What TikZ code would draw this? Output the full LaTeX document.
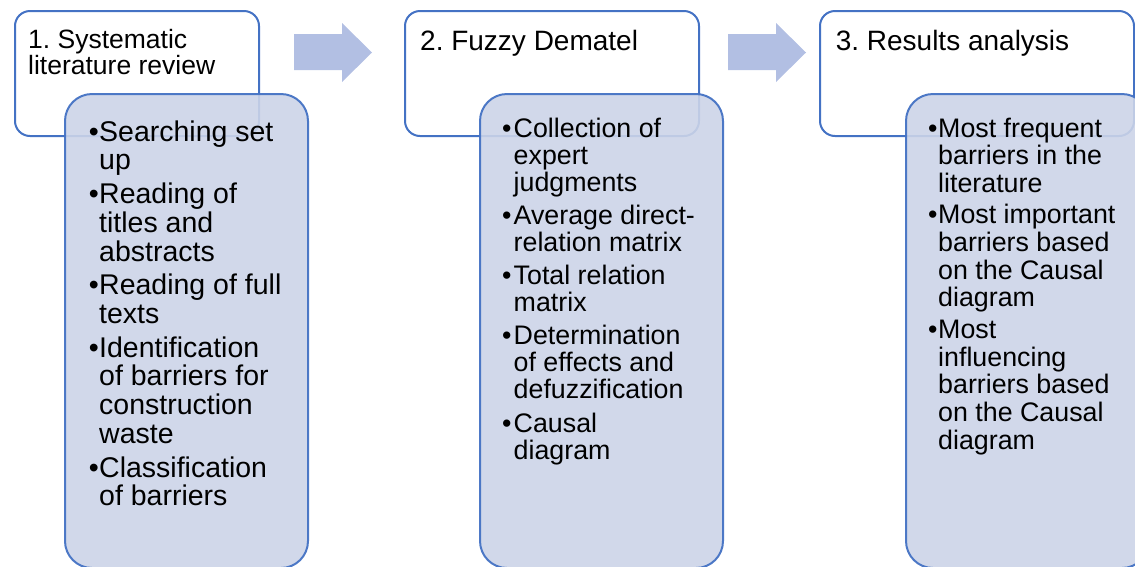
\documentclass[tikz,border=0pt]{standalone}
\usepackage{fontspec}
\setmainfont{Liberation Sans}
\frenchspacing
\definecolor{bdr}{RGB}{68,114,196}
\definecolor{lowfill}{RGB}{204,212,232}
\definecolor{arrfill}{RGB}{178,191,227}
\tikzset{
  topbox/.style={draw=bdr, line width=2pt, fill=white, rounded corners=15pt, inner sep=0pt, anchor=north west},
  lowbox/.style={draw=bdr, line width=2pt, fill=lowfill, fill opacity=0.9, draw opacity=0.95, rounded corners=27pt, inner sep=0pt, anchor=north west},
  blockarrow/.style={fill=arrfill, draw=none},
  ln/.style={inner sep=0pt, anchor=base west, text=black},
  ttl/.style={ln, font=\fontsize{28}{28}\selectfont},
  ttlone/.style={ln, font=\fontsize{26.5}{25.7}\selectfont},
  colone/.style={ln, font=\fontsize{28.5}{28.8}\selectfont},
  coltwo/.style={ln, font=\fontsize{26.8}{27}\selectfont},
  colthree/.style={ln, font=\fontsize{26.8}{27.7}\selectfont},
}
\begin{document}
\begin{tikzpicture}[x=1pt,y=-1pt]
\useasboundingbox (0,0) rectangle (1135,566);
\clip (0,0) rectangle (1135,566);

% block arrows
\fill[blockarrow] (294,34) -- (342,34) -- (342,23) -- (372,52.5) -- (342,82) -- (342,70) -- (294,70) -- cycle;
\fill[blockarrow] (728,34) -- (776,34) -- (776,23) -- (806,52.5) -- (776,82) -- (776,70) -- (728,70) -- cycle;

% column 1
\node[topbox, minimum width=244pt, minimum height=125pt] (t1) at (14,10) {};
\node[ttlone] (t1a) at (28,48.3) {1. Systematic};
\node[ttlone] (t1b) at (28,74) {literature review};
\node[lowbox, minimum width=243pt, minimum height=474pt] (b1) at (64,93) {};
\foreach \y/\t [count=\i] in {141/Searching set, 169.8/up, 203.4/Reading of, 232.2/titles and, 261/abstracts, 294.6/Reading of full, 323.4/texts, 357/Identification, 385.8/of barriers for, 414.6/construction, 443.4/waste, 477/Classification, 505.8/of barriers}
  \node[colone] (c1l\i) at (99,\y) {\t};
\foreach \y [count=\i] in {141,203.4,294.6,357,477}
  \node[colone] (c1b\i) at (88.6,\y) {•};

% column 2
\node[topbox, minimum width=294pt, minimum height=125pt] (t2) at (404,10) {};
\node[ttl] (t2a) at (420,50) {2. Fuzzy Dematel};
\node[lowbox, minimum width=243pt, minimum height=474pt] (b2) at (479,93) {};
\foreach \y/\t [count=\i] in {137/Collection of, 164/expert, 191/judgments, 224.25/Average direct-, 251.25/relation matrix, 284.5/Total relation, 311.5/matrix, 344.75/Determination, 371.75/of effects and, 398.75/defuzzification, 432/Causal, 459/diagram}
  \node[coltwo] (c2l\i) at (513.5,\y) {\t};
\foreach \y [count=\i] in {137,224.25,284.5,344.75,432}
  \node[coltwo] (c2b\i) at (502,\y) {•};

% column 3
\node[topbox, minimum width=314pt, minimum height=125pt] (t3) at (819,10) {};
\node[ttl] (t3a) at (835.6,50) {3. Results analysis};
\node[lowbox, minimum width=243pt, minimum height=474pt] (b3) at (905,93) {};
\foreach \y/\t [count=\i] in {137/Most frequent, 164.7/barriers in the, 192.4/literature, 223.8/Most important, 251.5/barriers based, 279.2/on the Causal, 306.9/diagram, 338.3/Most, 366/influencing, 393.7/barriers based, 421.4/on the Causal, 449.1/diagram}
  \node[colthree] (c3l\i) at (938,\y) {\t};
\foreach \y [count=\i] in {137,223.8,338.3}
  \node[colthree] (c3b\i) at (928,\y) {•};
\end{tikzpicture}
\end{document}
